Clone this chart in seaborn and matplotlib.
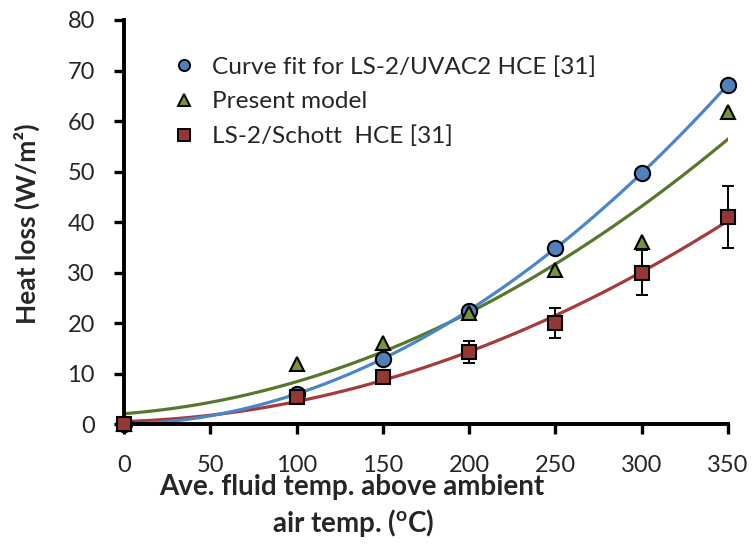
import numpy as np
import pandas as pd
import matplotlib
matplotlib.use("Agg")
import matplotlib.pyplot as plt
from matplotlib.lines import Line2D
import seaborn as sns

# Temperature difference between fluid and ambient air (°C)
temp_diff = [0, 100, 150, 200, 250, 300, 350]

# Heat loss per unit area (W/m²)
uvac2_fit = [0, 6, 13, 22.5, 34.9, 49.7, 67.2]
present_model = [0, 12, 16, 22, 30.6, 36, 61.7]
schott = [0, 5.5, 9.3, 14.3, 20, 30, 41]
schott_err = [0, 0.8, 1.4, 2.1, 3.0, 4.5, 6.2]

series_labels = ["Curve fit for LS-2/UVAC2 HCE [31]", "Present model", "LS-2/Schott  HCE [31]"]
x_ticks = [0, 50, 100, 150, 200, 250, 300, 350]
y_ticks = [0, 10, 20, 30, 40, 50, 60, 70, 80]

sns.set_theme(style="ticks")
plt.rcParams["font.family"] = ["Lato", "DejaVu Sans"]

df = pd.DataFrame({
    "T": temp_diff,
    "uvac2": uvac2_fit,
    "model": present_model,
    "schott": schott,
    "err": schott_err,
})

W, H = 755, 544
fig = plt.figure(figsize=(W / 100, H / 100), dpi=100)
ax = fig.add_axes([124 / W, 1 - 424.3 / H, 604 / W, 404.3 / H])

line_cols = {"uvac2": "#4A86C8", "model": "#56782A", "schott": "#A63A3A"}
fill_cols = {"uvac2": "#4F81BD", "model": "#77933C", "schott": "#953735"}
markers = {"uvac2": "o", "model": "^", "schott": "s"}
msize = {"uvac2": 11, "model": 10.5, "schott": 10.5}

# second-order polynomial trend lines
for key in ["schott", "model", "uvac2"]:
    sns.regplot(data=df, x="T", y=key, order=2, ci=None, scatter=False, ax=ax,
                line_kws=dict(color=line_cols[key], lw=2.3, zorder=2))

# error bars on the Schott receiver measurements
ax.errorbar(df["T"], df["schott"], yerr=df["err"], fmt="none", ecolor="black",
            elinewidth=1.4, capsize=4, capthick=1.4, zorder=3, clip_on=False)

for key in ["uvac2", "model", "schott"]:
    ax.plot(df["T"], df[key], linestyle="none", marker=markers[key], markersize=msize[key],
            markerfacecolor=fill_cols[key], markeredgecolor="black",
            markeredgewidth=1.5, zorder=4, clip_on=False)

ax.set_xlim(0, 350)
ax.set_ylim(0, 80)
ax.set_xticks(x_ticks)
ax.set_yticks(y_ticks)
ax.tick_params(axis="both", labelsize=17, width=2.4, length=7, color="black")
ax.tick_params(axis="y", pad=14)
ax.tick_params(axis="x", pad=15)
for side in ["top", "right"]:
    ax.spines[side].set_visible(False)
for side in ["left", "bottom"]:
    ax.spines[side].set_linewidth(2.8)
    ax.spines[side].set_color("black")

ax.set_xlabel("")
ax.set_ylabel("")
fig.text(27 / W, 1 - 224 / H, "Heat loss (W/m²)", rotation=90,
         ha="center", va="center", fontsize=19, fontweight="bold")

fig.text(352 / W, 1 - 487 / H, "Ave. fluid temp. above ambient",
         ha="center", va="center", fontsize=20, fontweight="bold")
fig.text(353 / W, 1 - 523 / H, "air temp. ($\\mathregular{^o}$C)",
         ha="center", va="center", fontsize=20, fontweight="bold")

handles = [Line2D([], [], linestyle="none", marker=markers[k], markersize=8,
                  markerfacecolor=fill_cols[k], markeredgecolor="black",
                  markeredgewidth=1.4) for k in ["uvac2", "model", "schott"]]
fig.legend(handles, series_labels, loc="upper left",
           bbox_to_anchor=(172 / W, 1 - 56 / H),
           frameon=False, fontsize=17.6, handletextpad=0.65, labelspacing=0.55,
           handlelength=1.0, borderpad=0, borderaxespad=0)

fig.savefig("out.png", dpi=100)
